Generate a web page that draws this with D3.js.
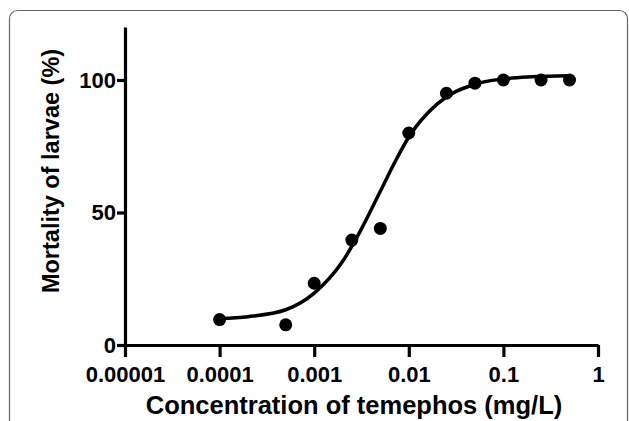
<!DOCTYPE html>
<html>
<head>
<meta charset="utf-8">
<script src="https://cdn.jsdelivr.net/npm/d3@7"></script>
<style>
  body { margin: 0; background: #fff; }
  svg { display: block; }
</style>
</head>
<body>
<div id="chart"></div>
<script>
// Observed mortality at each temephos concentration
const concentrations = [0.0001, 0.0005, 0.001, 0.0025, 0.005, 0.01, 0.025, 0.05, 0.1, 0.25, 0.5];
const mortality = [9.6, 7.6, 23.3, 39.6, 44, 80, 95, 98.8, 100, 100, 100];

// Fitted dose-response curve
const fitX = [0.0001, 0.0002, 0.0005, 0.001, 0.002, 0.003, 0.005, 0.007, 0.01, 0.02, 0.05, 0.1, 0.2, 0.5];
const fitY = [10, 10.7, 13.3, 19.6, 31.6, 42.3, 58, 68.5, 78.5, 91, 98.4, 100.4, 101.2, 101.6];

const xTicks = [0.00001, 0.0001, 0.001, 0.01, 0.1, 1];
const xTickLabels = ["0.00001", "0.0001", "0.001", "0.01", "0.1", "1"];
const yTicks = [0, 50, 100];

function drawChart() {
    d3.select("#chart").select("svg").remove();

    const width = 629, height = 421;
    const margin = { top: 27, right: 31, bottom: 76, left: 125 };
    const font = "'Liberation Sans', Arial, Helvetica, sans-serif";

    const svg = d3.select("#chart")
        .append("svg")
        .attr("width", width)
        .attr("height", height);

    // Rounded frame around the figure
    svg.append("rect")
        .attr("x", 9.5)
        .attr("y", 10.5)
        .attr("width", 618)
        .attr("height", 440)
        .attr("rx", 8)
        .attr("fill", "none")
        .attr("stroke", "#666")
        .attr("stroke-width", 1.2);

    const x = d3.scaleLog()
        .domain([0.00001, 1])
        .range([margin.left, width - margin.right]);

    const y = d3.scaleLinear()
        .domain([0, 120])
        .range([height - margin.bottom, margin.top]);

    // X axis
    const xAxis = svg.append("g")
        .attr("transform", `translate(0,${y(0)})`)
        .call(d3.axisBottom(x).tickValues(xTicks).tickSize(12).tickSizeOuter(0)
            .tickFormat((d, i) => xTickLabels[i]));
    xAxis.select(".domain").attr("stroke-width", 3.2);
    xAxis.selectAll(".tick line").attr("stroke-width", 3.2);
    xAxis.selectAll("text")
        .attr("dy", 0)
        .attr("y", 37)
        .style("font-family", font)
        .style("font-weight", "bold")
        .style("font-size", "22px")
        .style("fill", "#000");

    // Y axis
    const yAxis = svg.append("g")
        .attr("transform", `translate(${x(0.00001)},0)`)
        .call(d3.axisLeft(y).tickValues(yTicks).tickSize(8).tickSizeOuter(0));
    yAxis.select(".domain").attr("stroke-width", 3.2);
    yAxis.selectAll(".tick line").attr("stroke-width", 3.2);
    yAxis.selectAll("text")
        .attr("x", -9)
        .style("font-family", font)
        .style("font-weight", "bold")
        .style("font-size", "22px")
        .style("fill", "#000");

    // Axis titles
    svg.append("text")
        .attr("x", 354)
        .attr("y", 414)
        .attr("text-anchor", "middle")
        .style("font-family", font)
        .style("font-weight", "bold")
        .style("font-size", "25.5px")
        .text("Concentration of temephos (mg/L)");

    svg.append("text")
        .attr("transform", "translate(59,171) rotate(-90)")
        .attr("text-anchor", "middle")
        .style("font-family", font)
        .style("font-weight", "bold")
        .style("font-size", "23.5px")
        .text("Mortality of larvae (%)");

    // Fitted curve
    const fit = fitX.map((c, i) => ({ c: c, v: fitY[i] }));
    svg.append("path")
        .datum(fit)
        .attr("fill", "none")
        .attr("stroke", "#000")
        .attr("stroke-width", 3.5)
        .attr("d", d3.line()
            .x(d => x(d.c))
            .y(d => y(d.v))
            .curve(d3.curveMonotoneX));

    // Data points
    const points = concentrations.map((c, i) => ({ c: c, v: mortality[i] }));
    svg.selectAll("circle.pt")
        .data(points)
        .enter()
        .append("circle")
        .attr("class", "pt")
        .attr("cx", d => x(d.c))
        .attr("cy", d => y(d.v))
        .attr("r", 6.5)
        .attr("fill", "#000");
}

drawChart();
</script>
</body>
</html>
